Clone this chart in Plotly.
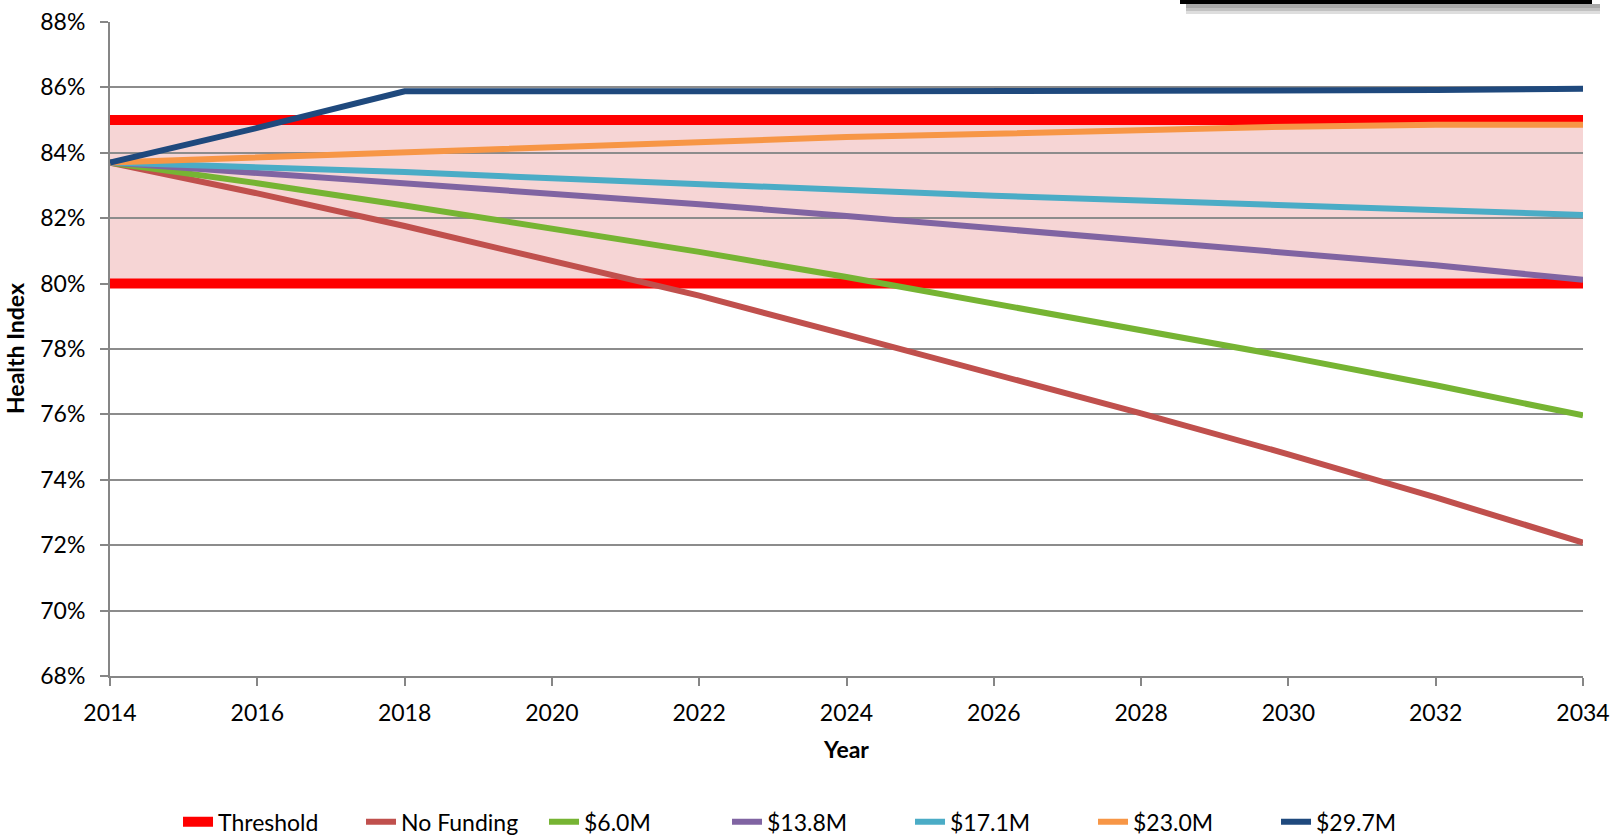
import plotly.graph_objects as go

years = [2014, 2016, 2018, 2020, 2022, 2024, 2026, 2028, 2030, 2032, 2034]
threshold_low = 80
threshold_high = 85
no_funding = [83.7, 82.76, 81.76, 80.7, 79.63, 78.44, 77.24, 76.03, 74.78, 73.46, 72.08]
m6_0 = [83.7, 83.07, 82.39, 81.67, 80.97, 80.2, 79.4, 78.6, 77.76, 76.89, 75.97]
m13_8 = [83.7, 83.38, 83.09, 82.77, 82.43, 82.07, 81.69, 81.31, 80.94, 80.56, 80.12]
m17_1 = [83.7, 83.56, 83.41, 83.22, 83.03, 82.86, 82.69, 82.54, 82.38, 82.25, 82.1]
m23_0 = [83.7, 83.85, 84.0, 84.17, 84.33, 84.48, 84.58, 84.7, 84.8, 84.86, 84.86]
m29_7 = [83.7, 84.76, 85.88, 85.9, 85.88, 85.88, 85.88, 85.88, 85.9, 85.92, 85.96]

series = [
    ("No Funding", no_funding, "#C0504D"),
    ("$6.0M", m6_0, "#76B433"),
    ("$13.8M", m13_8, "#8064A2"),
    ("$17.1M", m17_1, "#4BACC6"),
    ("$23.0M", m23_0, "#F79646"),
    ("$29.7M", m29_7, "#1F497D"),
]

FONT = "Lato"
FS = 23
fig = go.Figure()

# Threshold lines
fig.add_trace(go.Scatter(x=[years[0], years[-1]], y=[threshold_high, threshold_high],
                         mode="lines", line=dict(color="#FF0000", width=10),
                         name="Threshold", legendgroup="thr", showlegend=True))
fig.add_trace(go.Scatter(x=[years[0], years[-1]], y=[threshold_low, threshold_low],
                         mode="lines", line=dict(color="#FF0000", width=10),
                         name="Threshold", legendgroup="thr", showlegend=False))

for name, vals, col in series:
    fig.add_trace(go.Scatter(x=years, y=vals, mode="lines", name=name,
                             line=dict(color=col, width=6)))

# pink band between thresholds
fig.add_shape(type="rect", xref="x", yref="y", x0=years[0], x1=years[-1],
              y0=threshold_low, y1=threshold_high, fillcolor="#F6D5D5",
              line=dict(width=0), layer="below")

# partially visible black box at top-right with shadow
PH = 654
PW = 1473
for (a, b) in [(4, 14), (4, 11), (4, 8)]:
    fig.add_shape(type="rect", xref="paper", yref="paper",
                  x0=(1186 - 110) / PW, x1=(1600 - 110) / PW,
                  y0=1 + (22 - b) / PH, y1=1 + (22 - a) / PH,
                  fillcolor="rgba(0,0,0,0.13)", line=dict(width=0))
fig.add_shape(type="rect", xref="paper", yref="paper",
              x0=(1180 - 110) / PW, x1=(1592 - 110) / PW,
              y0=1 + (22 - 4) / PH, y1=1 + 22 / PH + 0.01,
              fillcolor="#000000", line=dict(width=0))

# y-axis title as rotated text
fig.add_annotation(text="<b>Health Index</b>", xref="paper", yref="paper",
                   x=(15 - 110) / PW, y=0.5, xanchor="center", yanchor="middle",
                   textangle=-90, showarrow=False,
                   font=dict(family=FONT, size=FS, color="#000000"))

fig.update_layout(
    width=1612, height=837,
    margin=dict(l=110, r=29, t=22, b=161, autoexpand=False),
    paper_bgcolor="white", plot_bgcolor="white",
    font=dict(family=FONT, size=FS, color="#000000"),
    showlegend=True,
    legend=dict(orientation="h", x=0.481, xanchor="center", y=-0.223, yanchor="middle",
                font=dict(family=FONT, size=FS), entrywidth=138, entrywidthmode="pixels",
                tracegroupgap=0),
    xaxis=dict(range=[2014, 2034], tickmode="array", tickvals=years,
               ticktext=[str(y) for y in years], automargin=False,
               showgrid=False, showline=True, linecolor="#868686", linewidth=2,
               ticks="outside", ticklen=8, tickwidth=2, tickcolor="#868686",
               ticklabelstandoff=7,
               title=dict(text="<b>Year</b>", font=dict(family=FONT, size=FS), standoff=17),
               zeroline=False),
    yaxis=dict(range=[68, 88], tickmode="array", tickvals=list(range(68, 89, 2)),
               ticktext=[f"{v}%" for v in range(68, 89, 2)], automargin=False,
               showgrid=True, gridcolor="#8C8C8C", gridwidth=1.5,
               showline=True, linecolor="#868686", linewidth=2,
               ticks="outside", ticklen=8, tickwidth=2, tickcolor="#868686",
               ticklabelstandoff=10,
               zeroline=False),
)

fig.write_html("out.html", config={"displayModeBar": False},
               post_script="document.body.style.margin='0';document.body.style.overflow='hidden';")
